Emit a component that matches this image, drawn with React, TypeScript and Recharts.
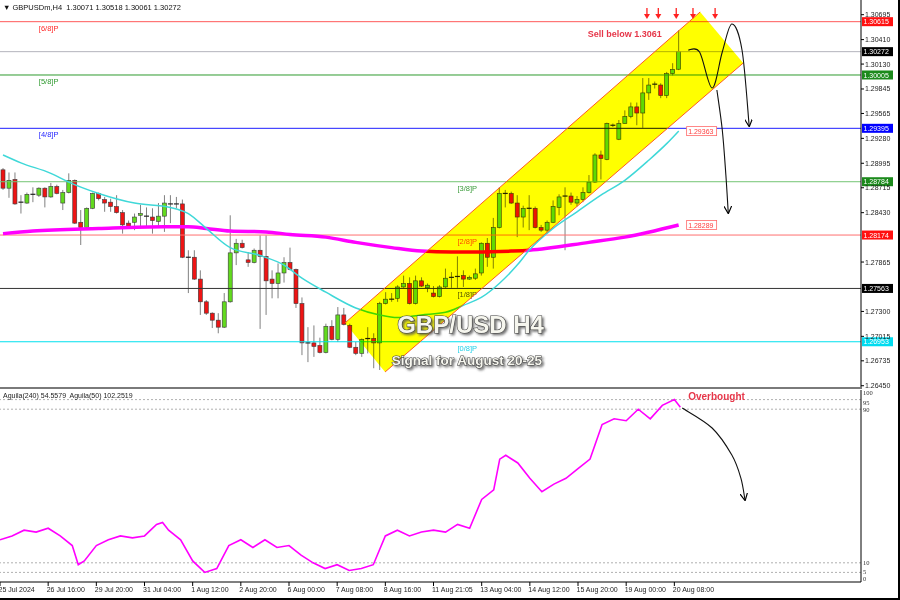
import React from "react";
import { ComposedChart, Bar, Line, XAxis, YAxis, ReferenceLine, ReferenceArea } from "recharts";

// H4 bars: [open, high, low, close]
const CANDLES: [number, number, number, number][] = [
  [1.2892, 1.2894, 1.2869, 1.2871], [1.2871, 1.2889, 1.286, 1.288], [1.2881, 1.2889, 1.2852, 1.2853],
  [1.2855, 1.2863, 1.2842, 1.2854], [1.2854, 1.2866, 1.2853, 1.2864], [1.2864, 1.2872, 1.2855, 1.2865],
  [1.2863, 1.2872, 1.2861, 1.2871], [1.2871, 1.2872, 1.2849, 1.2861], [1.2861, 1.2877, 1.286, 1.2873],
  [1.2873, 1.2875, 1.2864, 1.2865], [1.2854, 1.2869, 1.2846, 1.2866], [1.2866, 1.2888, 1.2865, 1.288],
  [1.288, 1.2881, 1.283, 1.2831], [1.2832, 1.2846, 1.2806, 1.2826], [1.2826, 1.2849, 1.2825, 1.2848],
  [1.2848, 1.2866, 1.2847, 1.2865], [1.2865, 1.2866, 1.2857, 1.2859], [1.2858, 1.2861, 1.2844, 1.2854],
  [1.2855, 1.2859, 1.2844, 1.285], [1.285, 1.2863, 1.2842, 1.2843], [1.2843, 1.2846, 1.2819, 1.2829],
  [1.2831, 1.2834, 1.2825, 1.2827], [1.2832, 1.2842, 1.2823, 1.2838], [1.284, 1.2852, 1.2825, 1.2842],
  [1.2839, 1.2849, 1.2826, 1.284], [1.2838, 1.2848, 1.2819, 1.2834], [1.2833, 1.2854, 1.2826, 1.2839],
  [1.2839, 1.2863, 1.2821, 1.2854], [1.2853, 1.2863, 1.2831, 1.2853], [1.2853, 1.2861, 1.2848, 1.2852],
  [1.2853, 1.2858, 1.2791, 1.2792], [1.2792, 1.28, 1.2751, 1.2792], [1.2792, 1.28, 1.2766, 1.2767],
  [1.2767, 1.2777, 1.2726, 1.2741], [1.2741, 1.2743, 1.2726, 1.2728], [1.2728, 1.2729, 1.2711, 1.272],
  [1.272, 1.2728, 1.2705, 1.2712], [1.2712, 1.2751, 1.2711, 1.2741], [1.2741, 1.284, 1.274, 1.2797],
  [1.2797, 1.2813, 1.2783, 1.2808], [1.2808, 1.2812, 1.2802, 1.2803], [1.2789, 1.2798, 1.2781, 1.2786],
  [1.2786, 1.2802, 1.2785, 1.28], [1.28, 1.2817, 1.271, 1.2793], [1.2793, 1.2817, 1.2726, 1.2765],
  [1.2767, 1.2777, 1.2745, 1.2762], [1.2762, 1.2785, 1.2745, 1.2774], [1.2774, 1.2792, 1.2763, 1.2786],
  [1.2786, 1.2803, 1.2777, 1.2778], [1.2778, 1.2779, 1.2734, 1.2739], [1.2739, 1.2746, 1.268, 1.2694],
  [1.2694, 1.2712, 1.2672, 1.2694], [1.2694, 1.2714, 1.2678, 1.269], [1.2691, 1.27, 1.2682, 1.2683],
  [1.2683, 1.2716, 1.2682, 1.2713], [1.2713, 1.272, 1.2697, 1.2698], [1.2698, 1.2735, 1.2695, 1.2726],
  [1.2726, 1.2734, 1.2714, 1.2715], [1.2714, 1.2716, 1.2688, 1.2689], [1.2689, 1.2695, 1.268, 1.2682],
  [1.2682, 1.2699, 1.2678, 1.2698], [1.2699, 1.2712, 1.2682, 1.2699], [1.2699, 1.2705, 1.2665, 1.2694],
  [1.2694, 1.2741, 1.2663, 1.2739], [1.2739, 1.2752, 1.2738, 1.2744], [1.2744, 1.2751, 1.2741, 1.2745],
  [1.2745, 1.276, 1.2741, 1.2758], [1.2758, 1.2771, 1.2757, 1.2762], [1.2762, 1.2769, 1.2738, 1.2739],
  [1.2739, 1.2771, 1.2738, 1.2765], [1.2765, 1.2769, 1.2758, 1.2759], [1.2757, 1.2762, 1.2752, 1.276],
  [1.2751, 1.2759, 1.2746, 1.2747], [1.2747, 1.276, 1.2746, 1.2758], [1.2758, 1.2779, 1.2757, 1.2768],
  [1.2769, 1.2775, 1.2757, 1.2769], [1.277, 1.2793, 1.2757, 1.277], [1.2771, 1.2777, 1.2758, 1.2767],
  [1.2767, 1.2771, 1.2766, 1.2769], [1.2768, 1.2779, 1.2766, 1.2773], [1.2774, 1.2809, 1.2771, 1.2808],
  [1.2808, 1.2814, 1.2781, 1.2792], [1.2792, 1.2837, 1.2779, 1.2826], [1.2826, 1.2872, 1.2825, 1.2865],
  [1.2865, 1.2869, 1.2849, 1.2865], [1.2865, 1.2867, 1.2853, 1.2854], [1.2854, 1.2863, 1.2815, 1.2838],
  [1.2838, 1.2851, 1.2826, 1.2848], [1.2848, 1.2863, 1.2823, 1.2848], [1.2848, 1.285, 1.2825, 1.2826],
  [1.2826, 1.2829, 1.2821, 1.2823], [1.2823, 1.2834, 1.2819, 1.2832], [1.2832, 1.2857, 1.2831, 1.285],
  [1.2849, 1.2864, 1.284, 1.2861], [1.2862, 1.2872, 1.28, 1.2862], [1.2862, 1.2866, 1.2852, 1.2855],
  [1.2854, 1.2862, 1.285, 1.2858], [1.2858, 1.2872, 1.2855, 1.2866], [1.2866, 1.2886, 1.2865, 1.2878],
  [1.2878, 1.2911, 1.2877, 1.2909], [1.2909, 1.2914, 1.2881, 1.2905], [1.2904, 1.2946, 1.2903, 1.2945],
  [1.2943, 1.2945, 1.2941, 1.2943], [1.2927, 1.2949, 1.2926, 1.2945], [1.2945, 1.296, 1.2945, 1.2953],
  [1.2953, 1.2969, 1.2951, 1.2964], [1.2964, 1.2969, 1.2943, 1.2957], [1.2957, 1.2997, 1.294, 1.298],
  [1.298, 1.2997, 1.2972, 1.2989], [1.299, 1.2993, 1.2985, 1.299], [1.2989, 1.2991, 1.2974, 1.2977],
  [1.2977, 1.3004, 1.2974, 1.3002], [1.3002, 1.3014, 1.3, 1.3007], [1.30071, 1.30518, 1.30061, 1.30272],
];

// cyan moving average, [bar, price]
const EMA_PTS: [number, number][] = [
  [0, 1.2909], [3, 1.29], [8, 1.2888], [11, 1.2878], [16, 1.2865], [22, 1.2854], [28, 1.2849],
  [31, 1.2842], [34, 1.2825], [38, 1.2803], [43, 1.2794], [47, 1.2783], [50, 1.2768], [54, 1.2752],
  [59, 1.2734], [63, 1.2726], [66, 1.2723], [70, 1.2726], [74, 1.2729], [77, 1.2737], [80, 1.2746],
  [83, 1.2762], [86, 1.2783], [88, 1.28], [92, 1.2825], [96, 1.2844], [100, 1.2863], [104, 1.288],
  [108, 1.2903], [111, 1.2922], [113, 1.29363],
];

// magenta slow moving average, [bar, price]
const SMA_PTS: [number, number][] = [
  [0, 1.2819], [5, 1.2822], [16, 1.2825], [27, 1.2827], [31, 1.2827], [34, 1.2825], [38, 1.2822],
  [44, 1.2821], [48, 1.2818], [54, 1.2815], [59, 1.2809], [65, 1.2803], [70, 1.2799], [75, 1.2798],
  [79, 1.2798], [85, 1.2799], [88, 1.28], [98, 1.2809], [104, 1.2815], [113, 1.28289],
];

// Aguila(50) oscillator, [bar, value]
const OSC_PTS: [number, number][] = [
  [0, 22], [2, 24], [4, 27], [6, 26], [8, 28], [10, 24], [12, 19], [13, 9], [14, 11], [16, 19],
  [18, 22], [20, 24], [22, 23], [24, 24], [26, 30], [27, 31], [28, 27], [30, 22], [32, 11], [34, 5],
  [36, 7], [38, 19], [40, 22], [42, 18], [44, 22], [46, 18], [48, 19], [50, 14], [52, 10], [54, 7],
  [56, 9], [58, 6], [60, 7], [62, 9], [64, 24], [66, 27], [68, 24], [70, 26], [72, 27], [74, 26],
  [76, 30], [78, 28], [80, 43], [82, 48], [83, 64], [84, 66], [86, 62], [88, 54], [90, 47], [92, 51],
  [94, 54], [96, 59], [98, 64], [100, 82], [102, 85], [104, 84], [106, 90], [108, 85], [110, 92],
  [112, 95], [113, 91],
];

const SLOTS = 144;
const Y_MIN = 1.26424;
const Y_MAX = 1.30863;
const PRICE_TICKS = [
  1.2645, 1.26735, 1.27015, 1.273, 1.27865, 1.2843, 1.28715, 1.28995, 1.2928, 1.29565, 1.29845,
  1.3013, 1.3041, 1.30695,
];
const OSC_TICKS = [0, 5, 10, 90, 95, 100];
const OSC_LEVELS = [5, 10, 90, 95];
const TIME_TICKS = [0, 8, 16, 24, 32, 40, 48, 56, 64, 72, 80, 88, 96, 104, 112];
const TIME_LABELS = [
  "25 Jul 2024", "26 Jul 16:00", "29 Jul 20:00", "31 Jul 04:00", "1 Aug 12:00", "2 Aug 20:00",
  "6 Aug 00:00", "7 Aug 08:00", "8 Aug 16:00", "11 Aug 21:05", "13 Aug 04:00", "14 Aug 12:00",
  "15 Aug 20:00", "19 Aug 00:00", "20 Aug 08:00",
];

const LEVEL_PRICES = [1.30615, 1.30005, 1.29395, 1.28784, 1.28174, 1.27563, 1.26953];
const LEVEL_NAMES = ["[6/8]P", "[5/8]P", "[4/8]P", "[3/8]P", "[2/8]P", "[1/8]P", "[0/8]P"];
const LEVEL_NAME_AT = [6, 6, 6, 76, 76, 76, 76];
const CURRENT_PRICE = 1.30272;

// drawn objects, [bar, price]
const CHANNEL: [number, number][] = [[57.2, 1.27168], [116.6, 1.30726], [123.8, 1.30142], [63.9, 1.26607]];
const WAVE: [number, number][] = [
  [114.6, 1.30291], [116.5, 1.30268], [118.6, 1.29856], [120.3, 1.30268], [121.9, 1.30588],
  [123.6, 1.30291], [124.8, 1.29421],
];
const DROP: [number, number][] = [[119.4, 1.29833], [120.3, 1.29376], [120.9, 1.28861], [121.3, 1.28426]];
const SELL_ARROWS = [107.7, 109.6, 112.6, 115.4, 119.1];
const SELL_ARROW_TIP = 1.30646;
const SELL_TEXT_AT: [number, number] = [97.8, 1.3044];
const TITLE_AT: [number, number] = [78.2, 1.27053];
const SUBTITLE_AT: [number, number] = [77.6, 1.26687];
const OSC_ARROW: [number, number][] = [[113.6, 90.6], [118.6, 80.2], [121.9, 66.1], [123.4, 54.2], [124.1, 42.7]];
const OVERBOUGHT_AT: [number, number] = [114.6, 94.8];

const FONT = "Liberation Sans, Arial, sans-serif";
const LEVEL_COLORS = ["#ff5a5a", "#2f9a2f", "#1f1fff", "#74c474", "#ff7070", "#333333", "#00e0ee"];
const LEVEL_TEXT = ["#ff2a2a", "#2f9a2f", "#1f1fff", "#3c9c3c", "#ff4a10", "#555555", "#22d0e8"];
const LEVEL_BOX = ["#ff1010", "#1c8a1c", "#0000ff", "#1c8a1c", "#ff1010", "#000000", "#00dcf0"];
const RED_TEXT = "#e6374a";

const emaMap = new Map(EMA_PTS);
const smaMap = new Map(SMA_PTS);
const oscMap = new Map(OSC_PTS);

const rows = Array.from({ length: SLOTS }, (_, i) => {
  const k = CANDLES[i];
  return {
    i,
    range: k ? [k[2], k[1]] : null,
    o: k ? k[0] : null,
    h: k ? k[1] : null,
    l: k ? k[2] : null,
    c: k ? k[3] : null,
    ema: emaMap.has(i) ? emaMap.get(i) : null,
    sma: smaMap.has(i) ? smaMap.get(i) : null,
    osc: oscMap.has(i) ? oscMap.get(i) : null,
  };
});

function smoothPath(pts: [number, number][]) {
  let d = `M${pts[0][0]},${pts[0][1]}`;
  for (let k = 0; k < pts.length - 1; k++) {
    const p0 = pts[k - 1] || pts[k];
    const p1 = pts[k];
    const p2 = pts[k + 1];
    const p3 = pts[k + 2] || p2;
    const c1 = [p1[0] + (p2[0] - p0[0]) / 6, p1[1] + (p2[1] - p0[1]) / 6];
    const c2 = [p2[0] - (p3[0] - p1[0]) / 6, p2[1] - (p3[1] - p1[1]) / 6];
    d += ` C${c1[0]},${c1[1]} ${c2[0]},${c2[1]} ${p2[0]},${p2[1]}`;
  }
  return d;
}

function Candle(props: any) {
  const { x, y, width, height, payload } = props;
  if (!payload || payload.o == null) return null;
  const { o, h, l, c } = payload;
  const top = Math.min(y, y + height);
  const span = Math.abs(height);
  const yOf = (v: number) => top + ((h - v) / (h - l)) * span;
  const mid = x + width / 2;
  const yo = yOf(o);
  const yc = yOf(c);
  const bodyH = Math.abs(yc - yo);
  return (
    <g>
      <line x1={mid} x2={mid} y1={top} y2={top + span} stroke="#808080" strokeWidth={1} />
      {bodyH < 1.2 ? (
        <line x1={x - 0.5} x2={x + width + 0.5} y1={yo} y2={yo} stroke="#222" strokeWidth={1.2} />
      ) : (
        <rect
          x={x}
          y={Math.min(yo, yc)}
          width={width}
          height={bodyH}
          fill={c > o ? "#62da1e" : "#ee1414"}
          stroke="#3a3a3a"
          strokeWidth={0.6}
        />
      )}
    </g>
  );
}

function PriceTick({ x, y, payload }: any) {
  return (
    <g>
      <line x1={x} x2={x + 3} y1={y} y2={y} stroke="#000" />
      <text x={x + 4} y={y + 2.5} fontSize={7} fill="#222" fontFamily={FONT}>
        {Number(payload.value).toFixed(5)}
      </text>
    </g>
  );
}

function OscTick({ x, y, payload }: any) {
  const v = payload.value;
  const shift = v === 100 ? 2 : v === 95 ? 3 : v === 0 ? -4 : v === 5 ? -1 : 0;
  return (
    <text x={x + 2} y={y + 2.5 + shift} fontSize={6.5} fill="#333" fontFamily="Liberation Serif, serif">
      {v}
    </text>
  );
}

function TimeTick({ x, y, payload }: any) {
  const k = TIME_TICKS.indexOf(payload.value);
  return (
    <g>
      <line x1={x} x2={x} y1={y} y2={y + 4} stroke="#000" />
      <text x={x - 1.5} y={y + 10} fontSize={7} fill="#222" fontFamily={FONT}>
        {TIME_LABELS[k]}
      </text>
    </g>
  );
}

function levelLabel(idx: number) {
  return (p: any) => {
    const vb = p.viewBox;
    const right = vb.x + vb.width;
    return (
      <g fontFamily={FONT}>
        <text x={vb.x + ((LEVEL_NAME_AT[idx] + 0.5) / SLOTS) * vb.width} y={vb.y + 9} fontSize={7.5} fill={LEVEL_TEXT[idx]}>
          {LEVEL_NAMES[idx]}
        </text>
        <rect x={right + 1} y={vb.y - 4.5} width={31} height={9} fill={LEVEL_BOX[idx]} />
        <text x={right + 2.5} y={vb.y + 2.6} fontSize={7} fill="#fff">
          {LEVEL_PRICES[idx].toFixed(5)}
        </text>
      </g>
    );
  };
}

function currentLabel(p: any) {
  const vb = p.viewBox;
  const right = vb.x + vb.width;
  return (
    <g fontFamily={FONT}>
      <rect x={right + 1} y={vb.y - 4.5} width={31} height={9} fill="#000" />
      <text x={right + 2.5} y={vb.y + 2.6} fontSize={7} fill="#fff">
        {CURRENT_PRICE.toFixed(5)}
      </text>
    </g>
  );
}

function PriceOverlay(props: any) {
  const { x, y, width, height } = props;
  const px = (i: number) => x + ((i + 0.5) / SLOTS) * width;
  const py = (p: number) => y + ((Y_MAX - p) / (Y_MAX - Y_MIN)) * height;
  const pt = (q: [number, number]): [number, number] => [px(q[0]), py(q[1])];
  const ch = CHANNEL.map(pt);
  const lastEma = EMA_PTS[EMA_PTS.length - 1];
  const lastSma = SMA_PTS[SMA_PTS.length - 1];
  const maBoxes = [lastEma, lastSma].map((q) => pt(q));
  const tipY = py(SELL_ARROW_TIP);
  const [tx, ty] = pt(TITLE_AT);
  const [sx, sy] = pt(SUBTITLE_AT);
  const [lx, ly] = pt(SELL_TEXT_AT);
  return (
    <g>
      <defs>
        <marker id="openHead" viewBox="0 0 10 10" refX="9" refY="5" markerWidth="7" markerHeight="7" orient="auto">
          <path d="M0,0 L10,5 L0,10" fill="none" stroke="#000" strokeWidth={1.5} />
        </marker>
        <filter id="titleShadow" x="-10%" y="-30%" width="130%" height="170%">
          <feDropShadow dx="1.8" dy="1.8" stdDeviation="0.8" floodColor="#555" floodOpacity="0.8" />
        </filter>
      </defs>
      <polygon points={ch.map((q) => q.join(",")).join(" ")} fill="#ffff00" style={{ mixBlendMode: "multiply" }} />
      <line x1={ch[0][0]} y1={ch[0][1]} x2={ch[1][0]} y2={ch[1][1]} stroke="#ff5a22" strokeWidth={1} />
      <line x1={ch[3][0]} y1={ch[3][1]} x2={ch[2][0]} y2={ch[2][1]} stroke="#ff5a22" strokeWidth={1} />
      <path d={smoothPath(WAVE.map(pt))} fill="none" stroke="#111" strokeWidth={1.1} markerEnd="url(#openHead)" />
      <path d={smoothPath(DROP.map(pt))} fill="none" stroke="#111" strokeWidth={1.1} markerEnd="url(#openHead)" />
      {SELL_ARROWS.map((i) => {
        const ax = px(i);
        return (
          <g key={i}>
            <line x1={ax} x2={ax} y1={tipY - 11} y2={tipY - 4} stroke="#ff2020" strokeWidth={1.3} />
            <path d={`M${ax - 3},${tipY - 5} L${ax + 3},${tipY - 5} L${ax},${tipY} Z`} fill="#ff2020" />
          </g>
        );
      })}
      <text x={lx} y={ly} fontSize={9} fontWeight="bold" fill={RED_TEXT} fontFamily={FONT}>
        Sell below 1.3061
      </text>
      {maBoxes.map(([bx, by], k) => (
        <g key={k} fontFamily={FONT}>
          <rect x={bx + 8} y={by - 4.5} width={30} height={9} fill="#fff" stroke="#ff6a6a" strokeWidth={0.8} />
          <text x={bx + 9.5} y={by + 2.6} fontSize={7} fill="#ff4040">
            {(k === 0 ? lastEma : lastSma)[1].toFixed(5)}
          </text>
        </g>
      ))}
      <g fontFamily={FONT} fontWeight="bold" textAnchor="middle" filter="url(#titleShadow)">
        <text x={tx} y={ty} fontSize={24} fill="#f6f6ee" stroke="#3c3c3c" strokeWidth={1.1} style={{ paintOrder: "stroke" }}>
          GBP/USD H4
        </text>
        <text x={sx} y={sy} fontSize={13.5} fill="#f6f6ee" stroke="#3c3c3c" strokeWidth={1} style={{ paintOrder: "stroke" }}>
          Signal for August 20-25
        </text>
      </g>
    </g>
  );
}

function OscOverlay(props: any) {
  const { x, y, width, height } = props;
  const px = (i: number) => x + ((i + 0.5) / SLOTS) * width;
  const py = (v: number) => y + ((100 - v) / 100) * height;
  const pt = (q: [number, number]): [number, number] => [px(q[0]), py(q[1])];
  const [ox, oy] = pt(OVERBOUGHT_AT);
  return (
    <g>
      <defs>
        <marker id="oscHead" viewBox="0 0 10 10" refX="9" refY="5" markerWidth="7" markerHeight="7" orient="auto">
          <path d="M0,0 L10,5 L0,10" fill="none" stroke="#000" strokeWidth={1.5} />
        </marker>
      </defs>
      <text x={ox} y={oy} fontSize={10} fontWeight="bold" fill={RED_TEXT} fontFamily={FONT}>
        Overbought
      </text>
      <path d={smoothPath(OSC_ARROW.map(pt))} fill="none" stroke="#111" strokeWidth={1.1} markerEnd="url(#oscHead)" />
    </g>
  );
}

export default function App() {
  return (
    <div
      style={{
        position: "fixed",
        left: 0,
        top: 0,
        width: 900,
        height: 600,
        background: "#fff",
        overflow: "hidden",
        fontFamily: FONT,
      }}
    >
      <div style={{ position: "absolute", left: 0, top: 0 }}>
        <ComposedChart width={900} height={388} data={rows} margin={{ top: 0, right: 0, bottom: 0, left: 0 }}>
          <XAxis dataKey="i" hide />
          <YAxis
            orientation="right"
            width={39}
            domain={[Y_MIN, Y_MAX]}
            allowDataOverflow
            ticks={PRICE_TICKS}
            interval={0}
            tick={<PriceTick />}
            tickLine={false}
            tickSize={0}
            tickMargin={0}
            axisLine={{ stroke: "#000" }}
          />
          {LEVEL_PRICES.map((p, k) => (
            <ReferenceLine key={p} y={p} stroke={LEVEL_COLORS[k]} strokeWidth={1} label={levelLabel(k)} />
          ))}
          <ReferenceLine y={CURRENT_PRICE} stroke="#b4b4bc" strokeWidth={1} label={currentLabel} />
          <Line
            dataKey="sma"
            type="monotone"
            stroke="#ff00ff"
            strokeWidth={3.5}
            dot={false}
            activeDot={false}
            connectNulls
            isAnimationActive={false}
          />
          <Line
            dataKey="ema"
            type="monotone"
            stroke="#3fd8d8"
            strokeWidth={1.5}
            dot={false}
            activeDot={false}
            connectNulls
            isAnimationActive={false}
          />
          <Bar dataKey="range" barSize={4} shape={<Candle />} isAnimationActive={false} />
          <ReferenceArea
            y1={Y_MIN}
            y2={Y_MAX}
            ifOverflow="visible"
            shape={<PriceOverlay />}
            {...({ zIndex: 1500 } as any)}
          />
        </ComposedChart>
      </div>
      <div style={{ position: "absolute", left: 0, top: 387, width: 862, height: 2, background: "#7a7a7a" }} />
      <div style={{ position: "absolute", left: 0, top: 390 }}>
        <ComposedChart width={900} height={208} data={rows} margin={{ top: 0, right: 0, bottom: 0, left: 0 }}>
          <XAxis
            dataKey="i"
            height={16}
            ticks={TIME_TICKS}
            interval={0}
            tick={<TimeTick />}
            tickLine={false}
            tickSize={0}
            tickMargin={0}
            axisLine={{ stroke: "#000" }}
          />
          <YAxis
            orientation="right"
            width={39}
            domain={[0, 100]}
            ticks={OSC_TICKS}
            interval={0}
            tick={<OscTick />}
            tickLine={false}
            tickSize={0}
            tickMargin={0}
            axisLine={{ stroke: "#000" }}
          />
          {OSC_LEVELS.map((v) => (
            <ReferenceLine key={v} y={v} stroke="#b0b0b0" strokeDasharray="2 2" />
          ))}
          <Line
            dataKey="osc"
            type="linear"
            stroke="#ff00ff"
            strokeWidth={1.6}
            dot={false}
            activeDot={false}
            connectNulls
            isAnimationActive={false}
          />
          <ReferenceArea
            y1={0}
            y2={100}
            ifOverflow="visible"
            shape={<OscOverlay />}
            {...({ zIndex: 1500 } as any)}
          />
        </ComposedChart>
      </div>
      <div style={{ position: "absolute", left: 3, top: 3, fontSize: 7.5, color: "#111", whiteSpace: "pre" }}>
        ▼ GBPUSDm,H4  1.30071 1.30518 1.30061 1.30272
      </div>
      <div style={{ position: "absolute", left: 3, top: 392, fontSize: 7, color: "#222", whiteSpace: "pre" }}>
        Aguila(240) 54.5579  Aguila(50) 102.2519
      </div>
      <div style={{ position: "absolute", right: 0, top: 0, width: 2, height: 600, background: "#000" }} />
      <div style={{ position: "absolute", left: 0, bottom: 0, width: 900, height: 2, background: "#000" }} />
    </div>
  );
}
